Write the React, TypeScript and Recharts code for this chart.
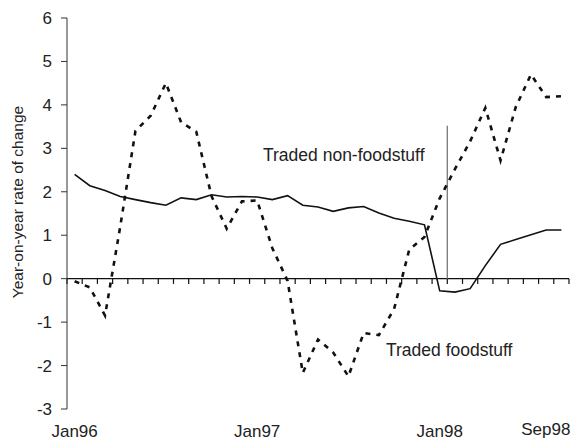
import React from 'react';
import { LineChart, Line, XAxis, YAxis, ReferenceLine, Customized } from 'recharts';

const MONTHS = [
  'Jan96', 'Feb96', 'Mar96', 'Apr96', 'May96', 'Jun96', 'Jul96', 'Aug96', 'Sep96', 'Oct96', 'Nov96', 'Dec96',
  'Jan97', 'Feb97', 'Mar97', 'Apr97', 'May97', 'Jun97', 'Jul97', 'Aug97', 'Sep97', 'Oct97', 'Nov97', 'Dec97',
  'Jan98', 'Feb98', 'Mar98', 'Apr98', 'May98', 'Jun98', 'Jul98', 'Aug98', 'Sep98',
];

const LABELLED = ['Jan96', 'Jan97', 'Jan98', 'Sep98'];

const NON_FOOD = [
  2.4, 2.14, 2.03, 1.89, 1.82, 1.75, 1.69, 1.86, 1.82, 1.93, 1.88, 1.89,
  1.88, 1.82, 1.91, 1.69, 1.65, 1.55, 1.63, 1.66, 1.51, 1.39, 1.32, 1.24,
  -0.28, -0.31, -0.23, 0.3, 0.79, 0.9, 1.01, 1.12, 1.12,
];

const FOOD = [
  -0.06, -0.2, -0.85, 1.2, 3.4, 3.75, 4.5, 3.6, 3.38, 1.9, 1.15, 1.78,
  1.8, 0.7, -0.05, -2.17, -1.4, -1.7, -2.25, -1.25, -1.3, -0.7, 0.67, 0.96,
  1.85, 2.52, 3.16, 3.93, 2.72, 3.95, 4.7, 4.18, 4.2,
];

const Y_TICKS = [-3, -2, -1, 0, 1, 2, 3, 4, 5, 6];

// each month sits in the middle of its slot, slot edges are whole numbers
const data = MONTHS.map((m, i) => ({ x: i + 0.5, month: m, nonFood: NON_FOOD[i], food: FOOD[i] }));
const xTicks = LABELLED.map((m) => MONTHS.indexOf(m) + 0.5);
const slotEdges = [...MONTHS.map((_, i) => i), MONTHS.length];

const FONT = '"Liberation Sans", Arial, sans-serif';

const MonthTick = (props: any) => {
  const { x, y, payload } = props;
  const label = MONTHS[Math.round(payload.value - 0.5)];
  // last label is pulled back inside the plot edge
  const last = label === MONTHS[MONTHS.length - 1];
  return (
    <text
      x={last ? x + 9 : x}
      y={last ? y + 18 : y + 20}
      textAnchor={last ? 'end' : 'middle'}
      fontSize={17}
      fontFamily={FONT}
      fill="#222"
    >
      {label}
    </text>
  );
};

const Notes = () => (
  <g fontFamily={FONT} fill="#222">
    <text x={17} y={202} fontSize={15.5} textAnchor="middle" dominantBaseline="central" transform="rotate(-90 17 202)">
      Year-on-year rate of change
    </text>
    <text x={263} y={161} fontSize={17.5}>Traded non-foodstuff</text>
    <text x={386} y={356} fontSize={17.5}>Traded foodstuff</text>
  </g>
);

export default function App() {
  return (
    <div style={{ position: 'absolute', left: 0, top: 0, background: '#fff' }}>
      <LineChart width={573} height={443} data={data} margin={{ top: 18, right: 4, bottom: 0, left: 0 }}>
        <XAxis
          dataKey="x"
          type="number"
          domain={[0, MONTHS.length]}
          ticks={xTicks}
          interval={0}
          height={34}
          axisLine={false}
          tickLine={false}
          tick={<MonthTick />}
        />
        <YAxis
          type="number"
          domain={[-3, 6]}
          ticks={Y_TICKS}
          interval={0}
          width={67}
          tickSize={6}
          tickMargin={9}
          axisLine={{ stroke: '#333' }}
          tickLine={{ stroke: '#333' }}
          tick={{ fill: '#222', fontSize: 17, fontFamily: FONT }}
        />
        <ReferenceLine y={0} stroke="#111" strokeWidth={1.2} />
        {slotEdges.map((k) => (
          <ReferenceLine key={k} segment={[{ x: k, y: 0 }, { x: k, y: -0.12 }]} stroke="#111" strokeWidth={1.2} />
        ))}
        <ReferenceLine segment={[{ x: 25, y: 0 }, { x: 25, y: 3.52 }]} stroke="#777" strokeWidth={1.3} />
        <Line
          dataKey="nonFood"
          type="linear"
          stroke="#111"
          strokeWidth={1.6}
          dot={false}
          activeDot={false}
          isAnimationActive={false}
        />
        <Line
          dataKey="food"
          type="linear"
          stroke="#111"
          strokeWidth={2.6}
          strokeDasharray="5 6"
          dot={false}
          activeDot={false}
          isAnimationActive={false}
        />
        <Customized component={Notes} />
      </LineChart>
    </div>
  );
}
